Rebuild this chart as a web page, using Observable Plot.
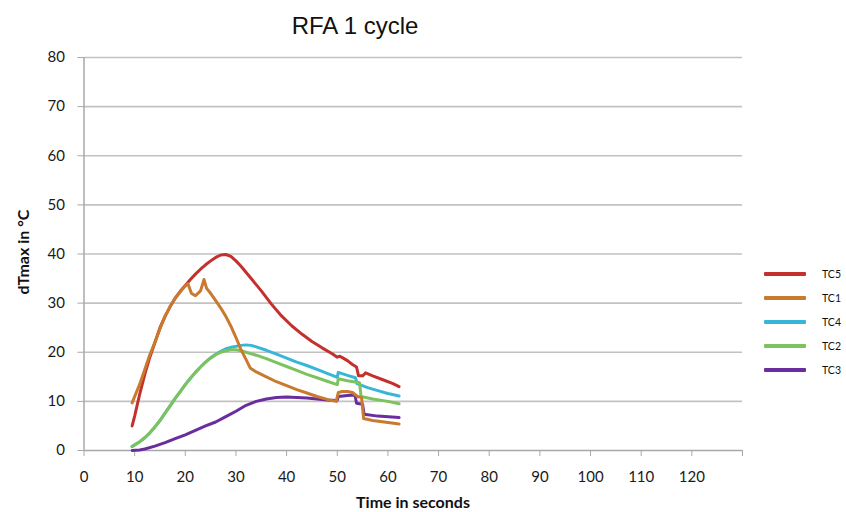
<!DOCTYPE html>
<html>
<head>
<meta charset="utf-8">
<script src="https://cdn.jsdelivr.net/npm/d3@7"></script>
<script src="https://cdn.jsdelivr.net/npm/@observablehq/plot@0.6"></script>
<style>
  html, body { margin: 0; padding: 0; background: #fff; }
  #wrap { position: relative; width: 846px; height: 512px; overflow: hidden; }
  #title { position: absolute; left: 355px; top: 12px; transform: translateX(-50%);
    font-family: "Liberation Sans", Arial, sans-serif; font-size: 24px; color: #111; white-space: nowrap; }
  .axlab { position: absolute; font-family: Lato, "Open Sans", sans-serif; font-weight: bold;
    font-size: 16px; color: #111; white-space: nowrap; }
  #xlab { left: 413px; top: 501px; transform: translate(-50%, -50%); }
  #ylab { left: 22px; top: 252px; transform: translate(-50%, -50%) rotate(-90deg); }
  #legend { position: absolute; left: 764px; top: 262px; font-family: Lato, sans-serif; font-size: 10.5px; color: #111; }
  .li { display: flex; align-items: center; height: 24px; }
  .sw { width: 42px; height: 4px; margin-right: 16px; border-radius: 1px; }
</style>
</head>
<body>
<div id="wrap">
  <div id="chart"></div>
  <div id="title">RFA 1 cycle</div>
  <div class="axlab" id="xlab">Time in seconds</div>
  <div class="axlab" id="ylab">dTmax in °C</div>
  <div id="legend"></div>
</div>
<script>
// ---- data ----
const seriesNames = ["TC5", "TC1", "TC4", "TC2", "TC3"];
const seriesColors = ["#c4302b", "#c87a2e", "#38b6d8", "#7cc35e", "#6a2d9e"];

const xTicks = [0, 10, 20, 30, 40, 50, 60, 70, 80, 90, 100, 110, 120, 130];
const xTickLabels = ["0", "10", "20", "30", "40", "50", "60", "70", "80", "90", "100", "110", "120", ""];
const yTicks = [0, 10, 20, 30, 40, 50, 60, 70, 80];

const tc5Time = [9.5, 10, 11, 12, 13, 14, 15, 16, 17, 18, 19, 20, 21, 22, 23, 24, 25, 26, 27, 28, 29, 30, 31, 33, 35, 37, 39, 41, 43, 45, 47, 49, 50, 50.5, 51, 52, 53, 53.8, 54.2, 55, 55.6, 57, 59, 61, 62.2];
const tc5Value = [5, 7, 11.5, 15.5, 19, 22, 25, 27.3, 29.3, 31, 32.4, 33.6, 34.8, 35.9, 36.9, 37.8, 38.6, 39.3, 39.8, 39.9, 39.5, 38.6, 37.5, 35, 32.5, 29.8, 27.4, 25.4, 23.7, 22.2, 20.9, 19.7, 19, 19.2, 18.9, 18.3, 17.5, 17, 15.2, 15.2, 15.8, 15.2, 14.4, 13.6, 13];

const tc1Time = [9.5, 10, 11, 12, 13, 14, 15, 16, 17, 18, 19, 19.8, 20.5, 21.2, 22, 23, 23.7, 24.2, 25, 26, 27, 28, 29, 30, 31, 32, 32.8, 34, 36, 38, 40, 42, 44, 46, 48, 49.8, 50.2, 51, 52, 53, 54, 54.8, 55.2, 57, 60, 62.2];
const tc1Value = [9.7, 11, 13.5, 16.5, 19.5, 22, 24.8, 27.3, 29.3, 31, 32.3, 33.3, 34, 32, 31.5, 32.5, 34.8, 33, 32, 30.5, 29, 27.3, 25.3, 23, 20.5, 18.5, 16.8, 16, 15, 14, 13.2, 12.4, 11.7, 11, 10.4, 10, 11.8, 12, 12, 11.8, 11, 10.8, 6.5, 6.1, 5.7, 5.4];

const tc4Time = [9.5, 11, 12, 13, 14, 15, 16, 17, 18, 19, 20, 21, 22, 23, 24, 25, 26, 27, 28, 29, 30, 31, 32, 33, 34, 36, 38, 40, 42, 44, 46, 48, 50, 50.2, 52, 53.6, 53.9, 56, 58, 60, 62.2];
const tc4Value = [0.8, 1.8, 2.6, 3.6, 4.8, 6.1, 7.6, 9.1, 10.6, 12, 13.4, 14.7, 15.9, 17, 18, 18.9, 19.6, 20.2, 20.7, 21, 21.2, 21.4, 21.5, 21.4, 21.1, 20.4, 19.6, 18.8, 18, 17.3, 16.5, 15.7, 14.9, 15.9, 15.3, 14.8, 13.6, 12.8, 12.2, 11.6, 11.1];

const tc2Time = [9.5, 11, 12, 13, 14, 15, 16, 17, 18, 19, 20, 21, 22, 23, 24, 25, 26, 27, 28, 29, 30, 31, 32, 34, 36, 38, 40, 42, 44, 46, 48, 50, 50.2, 52, 54.4, 54.7, 57, 60, 62.2];
const tc2Value = [0.8, 1.8, 2.6, 3.6, 4.8, 6.1, 7.6, 9.1, 10.6, 12, 13.4, 14.7, 15.9, 17, 18, 18.8, 19.5, 20, 20.3, 20.5, 20.5, 20.3, 20, 19.4, 18.7, 17.9, 17.1, 16.3, 15.5, 14.8, 14.1, 13.4, 14.6, 14.2, 13.8, 11, 10.5, 10, 9.5];

const tc3Time = [9.5, 11, 12, 14, 16, 18, 20, 22, 24, 26, 28, 30, 32, 34, 36, 38, 40, 42, 44, 46, 48, 50, 50.2, 52, 53.5, 53.8, 55, 55.3, 58, 62.2];
const tc3Value = [0, 0.1, 0.3, 0.9, 1.6, 2.4, 3.2, 4.1, 5, 5.8, 6.9, 8, 9.2, 10, 10.5, 10.8, 10.9, 10.8, 10.7, 10.5, 10.3, 10.2, 11, 11.2, 11.3, 9.6, 9.4, 7.4, 7.0, 6.7];

// ---- build tables ----
const seriesTimes = [tc5Time, tc1Time, tc4Time, tc2Time, tc3Time];
const seriesValues = [tc5Value, tc1Value, tc4Value, tc2Value, tc3Value];
const series = seriesNames.map((name, k) => ({
  name,
  color: seriesColors[k],
  data: seriesTimes[k].map((t, i) => ({ t, v: seriesValues[k][i], name }))
}));
// draw order: TC4, TC2, TC3, TC5, TC1
const drawOrder = ["TC4", "TC2", "TC3", "TC5", "TC1"];

const axisColor = "#a8a8a8";
const chart = Plot.plot({
  width: 846,
  height: 512,
  marginLeft: 83.5,
  marginRight: 104,
  marginTop: 57,
  marginBottom: 62,
  x: { domain: [0, 130] },
  y: { domain: [0, 80] },
  style: { fontFamily: "Lato, 'Open Sans', sans-serif", fontSize: "15px", color: "#1a1a1a", background: "white" },
  marks: [
    Plot.gridY(yTicks.filter(d => d > 0), { stroke: "#c2c2c2", strokeOpacity: 1, strokeWidth: 1.6 }),
    Plot.axisY(yTicks, { tickSize: 6, tickPadding: 13, stroke: axisColor, fill: "#1a1a1a", label: null }),
    Plot.axisX(xTicks, { tickSize: 6, tickPadding: 15, stroke: axisColor, fill: "#1a1a1a", label: null,
      tickFormat: d => xTickLabels[xTicks.indexOf(d)] }),
    Plot.ruleX([0], { stroke: axisColor, strokeWidth: 1.5 }),
    Plot.ruleY([0], { stroke: axisColor, strokeWidth: 1.5 }),
    ...drawOrder.map(n => {
      const s = series.find(d => d.name === n);
      return Plot.line(s.data, { x: "t", y: "v", stroke: s.color, strokeWidth: 3, strokeLinejoin: "round" });
    })
  ]
});
document.getElementById("chart").appendChild(chart);

const legend = document.getElementById("legend");
series.forEach(s => {
  const row = document.createElement("div");
  row.className = "li";
  const sw = document.createElement("div");
  sw.className = "sw";
  sw.style.background = s.color;
  const tx = document.createElement("span");
  tx.textContent = s.name;
  row.appendChild(sw);
  row.appendChild(tx);
  legend.appendChild(row);
});
</script>
</body>
</html>
